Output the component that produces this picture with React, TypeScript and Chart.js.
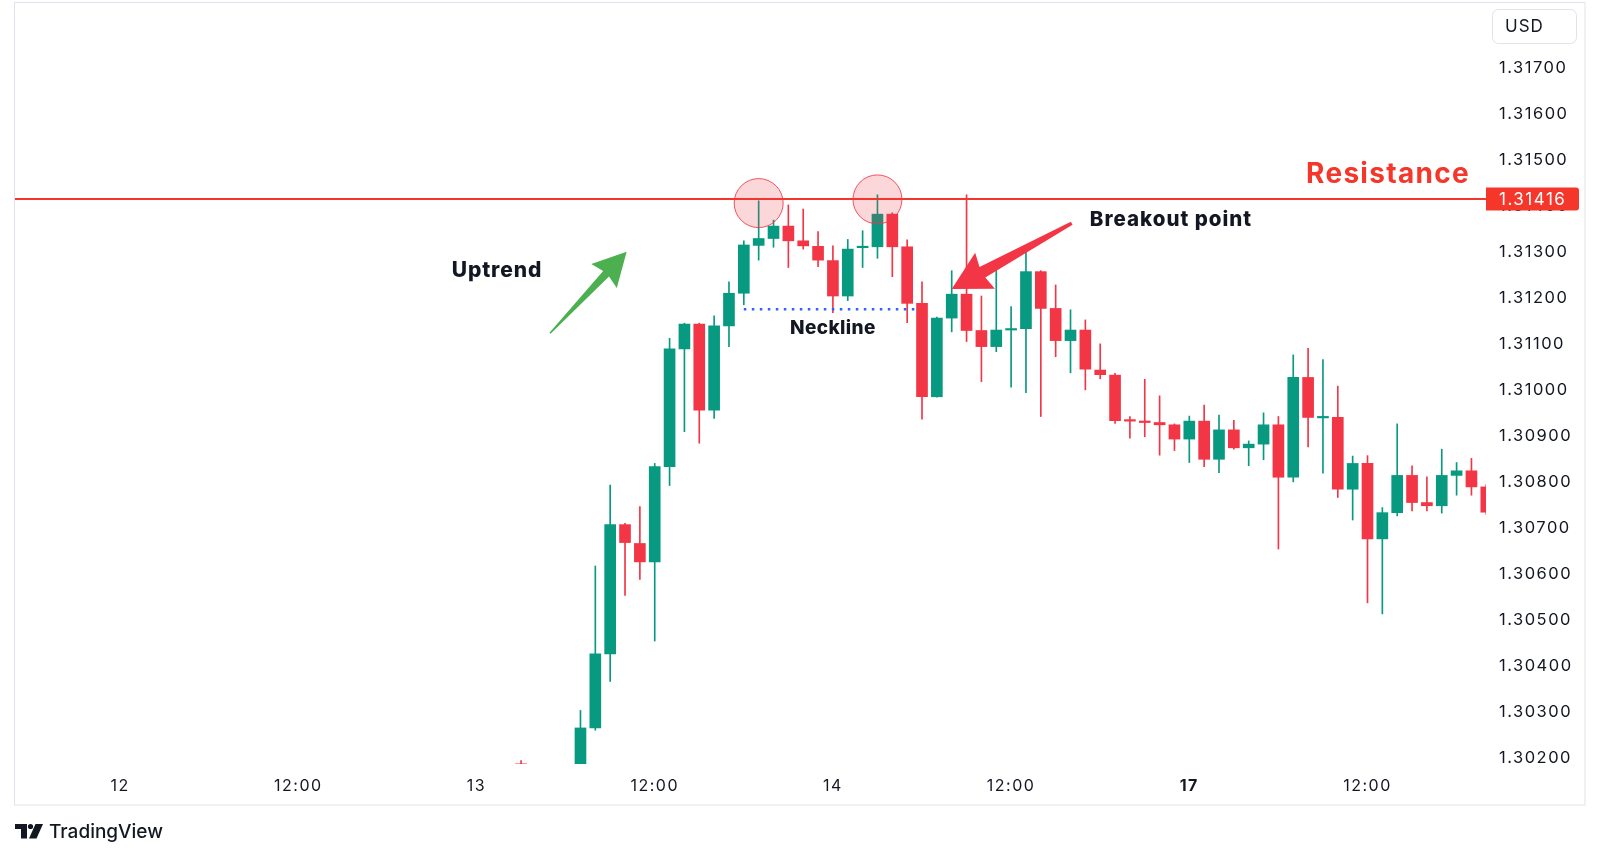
import React, { useEffect, useRef } from "react";
import { Chart, registerables } from "chart.js";

Chart.register(...registerables);

// ---- data (hourly candles, x = hours since 13th 00:00, weekend skipped) ----
const hours = [3,4,5,6,7,8,9,10,11,12,13,14,15,16,17,18,19,20,21,22,23,24,25,26,27,28,29,30,31,32,33,34,35,36,37,38,39,40,41,42,43,44,45,46,47,48,49,50,51,52,53,54,55,56,57,58,59,60,61,62,63,64,65,66,67,68];
const opens = [1.30188,1.30165,1.30105,1.30135,1.30160,1.30266,1.30427,1.30708,1.30667,1.30627,1.30834,1.31090,1.31144,1.30957,1.31140,1.31211,1.31315,1.31330,1.31357,1.31325,1.31313,1.31282,1.31205,1.31310,1.31312,1.31383,1.31312,1.31189,1.30986,1.31157,1.31209,1.31130,1.31095,1.31131,1.31134,1.31258,1.31178,1.31108,1.31131,1.31044,1.31033,1.30936,1.30933,1.30930,1.30925,1.30894,1.30933,1.30850,1.30914,1.30875,1.30883,1.30925,1.30811,1.31028,1.30940,1.30941,1.30785,1.30841,1.30677,1.30734,1.30815,1.30756,1.30749,1.30815,1.30825,1.30790];
const highs = [1.30195,1.30178,1.30150,1.30182,1.30304,1.30618,1.30794,1.30711,1.30747,1.30841,1.31113,1.31146,1.31146,1.31162,1.31236,1.31325,1.31412,1.31370,1.31403,1.31394,1.31345,1.31314,1.31328,1.31347,1.31425,1.31386,1.31327,1.31236,1.31159,1.31260,1.31425,1.31205,1.31277,1.31182,1.31305,1.31260,1.31229,1.31175,1.31153,1.31101,1.31037,1.30943,1.31024,1.30988,1.30927,1.30944,1.30968,1.30946,1.30935,1.30890,1.30951,1.30943,1.31077,1.31091,1.31067,1.31009,1.30857,1.30858,1.30745,1.30927,1.30836,1.30812,1.30872,1.30843,1.30852,1.30795];
const lows = [1.30150,1.30085,1.30060,1.30110,1.30150,1.30261,1.30367,1.30554,1.30589,1.30455,1.30793,1.30910,1.30885,1.30939,1.31095,1.31186,1.31283,1.31311,1.31267,1.31307,1.31269,1.31169,1.31195,1.31267,1.31287,1.31247,1.31147,1.30937,1.30985,1.31127,1.31106,1.31019,1.31084,1.31007,1.30995,1.30943,1.31073,1.31038,1.31001,1.31025,1.30928,1.30896,1.30899,1.30859,1.30869,1.30843,1.30834,1.30821,1.30872,1.30836,1.30849,1.30655,1.30801,1.30877,1.30820,1.30767,1.30718,1.30538,1.30514,1.30727,1.30738,1.30738,1.30733,1.30772,1.30772,1.30730];
const closes = [1.30165,1.30105,1.30135,1.30160,1.30266,1.30427,1.30708,1.30669,1.30627,1.30834,1.31090,1.31144,1.30957,1.31140,1.31211,1.31316,1.31330,1.31357,1.31325,1.31314,1.31283,1.31205,1.31307,1.31312,1.31383,1.31312,1.31189,1.30986,1.31157,1.31209,1.31130,1.31095,1.31131,1.31134,1.31258,1.31178,1.31108,1.31131,1.31046,1.31034,1.30934,1.30933,1.30930,1.30925,1.30894,1.30933,1.30850,1.30914,1.30875,1.30883,1.30925,1.30811,1.31028,1.30941,1.30942,1.30785,1.30841,1.30677,1.30734,1.30815,1.30756,1.30749,1.30815,1.30825,1.30790,1.30735];

const xTickValues = [-24, -12, 0, 12, 24, 36, 48, 60];
const xTickLabels = ["12", "12:00", "13", "12:00", "14", "12:00", "17", "12:00"];
const yTickValues = [1.302, 1.303, 1.304, 1.305, 1.306, 1.307, 1.308, 1.309, 1.31, 1.311, 1.312, 1.313, 1.314, 1.315, 1.316, 1.317];

const resistanceLevel = 1.31416;
const necklineLevel = 1.31176;
const necklineSpan = [18, 29.5];
const topCircleHours = [19, 27];
const topCirclePrices = [1.31407, 1.31415];
const uptrendArrow = [[4.95, 1.31124], [10.11, 1.31301]]; // tail, tip
const breakoutArrow = [[40.08, 1.31363], [32.0, 1.31220]]; // tail, tip
const labelUptrend = [-1.67, 1.31259];
const labelNeckline = [24.0, 1.31135];
const labelBreakout = [41.3, 1.3137];
const labelResistance = [66.9, 1.31468];

const UP = "#089981";
const DOWN = "#F23645";
const FONT = "Inter, 'Noto Sans', sans-serif";

function drawArrow(ctx: CanvasRenderingContext2D, x0: number, y0: number, x1: number, y1: number,
  tailW: number, baseW: number, headLen: number, headHalf: number, color: string) {
  const dx = x1 - x0, dy = y1 - y0;
  const len = Math.hypot(dx, dy);
  const ux = dx / len, uy = dy / len;
  const px = -uy, py = ux;
  const bx = x1 - ux * headLen, by = y1 - uy * headLen;
  ctx.save();
  ctx.fillStyle = color;
  ctx.beginPath();
  ctx.moveTo(x0 + px * tailW / 2, y0 + py * tailW / 2);
  ctx.lineTo(bx + px * baseW / 2, by + py * baseW / 2);
  ctx.lineTo(bx + px * headHalf - ux * 3, by + py * headHalf - uy * 3);
  ctx.lineTo(x1, y1);
  ctx.lineTo(bx - px * headHalf - ux * 3, by - py * headHalf - uy * 3);
  ctx.lineTo(bx - px * baseW / 2, by - py * baseW / 2);
  ctx.lineTo(x0 - px * tailW / 2, y0 - py * tailW / 2);
  ctx.closePath();
  ctx.fill();
  ctx.restore();
}

const overlayPlugin = {
  id: "overlay",
  beforeDraw(chart: any) {
    const ctx = chart.ctx as CanvasRenderingContext2D;
    ctx.save();
    ctx.fillStyle = "#ffffff";
    ctx.fillRect(0, 0, chart.width, chart.height);
    ctx.strokeStyle = "#e0e3eb";
    ctx.lineWidth = 1;
    ctx.strokeRect(14.5, 2.5, 1585 - 14.5, 805 - 2.5);
    ctx.restore();
    (ctx as any).letterSpacing = "1.5px";
  },
  beforeDatasetsDraw(chart: any) {
    (chart.ctx as any).letterSpacing = "0px";
  },
  afterDatasetsDraw(chart: any) {
    const ctx = chart.ctx as CanvasRenderingContext2D;
    const xs = chart.scales.x, ys = chart.scales.y;
    const area = chart.chartArea;
    const X = (v: number) => xs.getPixelForValue(v);
    const Y = (v: number) => ys.getPixelForValue(v);
    ctx.save();
    ctx.beginPath();
    ctx.rect(area.left, area.top, area.right - area.left, area.bottom - area.top);
    ctx.clip();

    // resistance line
    ctx.strokeStyle = "#F4372A";
    ctx.lineWidth = 2;
    ctx.beginPath();
    ctx.moveTo(area.left, Y(resistanceLevel));
    ctx.lineTo(area.right, Y(resistanceLevel));
    ctx.stroke();

    // circles at the tops
    topCircleHours.forEach((h, i) => {
      ctx.beginPath();
      ctx.arc(X(h), Y(topCirclePrices[i]), 24.5, 0, Math.PI * 2);
      ctx.fillStyle = "rgba(242, 54, 69, 0.2)";
      ctx.fill();
      ctx.strokeStyle = "rgba(242, 54, 69, 0.85)";
      ctx.lineWidth = 1;
      ctx.stroke();
    });

    // neckline
    ctx.strokeStyle = "#2962FF";
    ctx.lineWidth = 2.5;
    ctx.setLineDash([2.5, 5.5]);
    ctx.beginPath();
    ctx.moveTo(X(necklineSpan[0]), Y(necklineLevel));
    ctx.lineTo(X(necklineSpan[1]), Y(necklineLevel));
    ctx.stroke();
    ctx.setLineDash([]);

    // arrows
    drawArrow(ctx, X(uptrendArrow[0][0]), Y(uptrendArrow[0][1]), X(uptrendArrow[1][0]), Y(uptrendArrow[1][1]),
      1.5, 8, 30, 17.5, "#4CAF50");
    drawArrow(ctx, X(breakoutArrow[0][0]), Y(breakoutArrow[0][1]), X(breakoutArrow[1][0]), Y(breakoutArrow[1][1]),
      3.5, 12, 35, 20.5, "#F23645");

    // labels
    const c = ctx as any;
    ctx.fillStyle = "#131722";
    ctx.textBaseline = "middle";
    ctx.font = `800 21px ${FONT}`;
    c.letterSpacing = "0.9px";
    ctx.textAlign = "left";
    ctx.fillText("Uptrend", X(labelUptrend[0]), Y(labelUptrend[1]));
    ctx.font = `800 19px ${FONT}`;
    c.letterSpacing = "0.4px";
    ctx.textAlign = "center";
    ctx.fillText("Neckline", X(labelNeckline[0]), Y(labelNeckline[1]));
    ctx.font = `800 20.5px ${FONT}`;
    c.letterSpacing = "1px";
    ctx.textAlign = "left";
    ctx.fillText("Breakout point", X(labelBreakout[0]), Y(labelBreakout[1]));
    ctx.font = `bold 28px ${FONT}`;
    c.letterSpacing = "1.3px";
    ctx.textAlign = "right";
    ctx.fillStyle = "#F4372A";
    ctx.fillText("Resistance", X(labelResistance[0]), Y(labelResistance[1]));
    c.letterSpacing = "0px";
    ctx.restore();
  },
  afterDraw(chart: any) {
    const ctx = chart.ctx as CanvasRenderingContext2D;
    const c = ctx as any;
    const ys = chart.scales.y;
    const area = chart.chartArea;
    const yR = ys.getPixelForValue(resistanceLevel);
    ctx.save();
    // price label
    ctx.fillStyle = "#F4372A";
    ctx.beginPath();
    c.roundRect(area.right, yR - 11.5, 93, 23, [0, 3, 3, 0]);
    ctx.fill();
    ctx.fillStyle = "#ffffff";
    ctx.font = `17px ${FONT}`;
    c.letterSpacing = "1.5px";
    ctx.textAlign = "left";
    ctx.textBaseline = "middle";
    ctx.fillText(resistanceLevel.toFixed(5), area.right + 13, yR + 1);

    // USD box
    ctx.strokeStyle = "#e0e3eb";
    ctx.lineWidth = 1;
    ctx.fillStyle = "#ffffff";
    ctx.beginPath();
    c.roundRect(1492.5, 9.5, 84, 34, 6);
    ctx.fill();
    ctx.stroke();
    ctx.fillStyle = "#131722";
    ctx.font = `17px ${FONT}`;
    c.letterSpacing = "1px";
    ctx.fillText("USD", 1505, 27);

    // TradingView logo
    c.letterSpacing = "0px";
    ctx.fillStyle = "#131722";
    ctx.fillRect(15, 824, 12, 5);
    ctx.fillRect(21, 824, 6, 14.5);
    ctx.beginPath();
    ctx.arc(30.5, 826.5, 2.6, 0, Math.PI * 2);
    ctx.fill();
    ctx.beginPath();
    ctx.moveTo(35.5, 824);
    ctx.lineTo(43, 824);
    ctx.lineTo(36.5, 838.5);
    ctx.lineTo(29, 838.5);
    ctx.closePath();
    ctx.fill();
    ctx.font = `500 19px ${FONT}`;
    ctx.textBaseline = "alphabetic";
    ctx.fillText("TradingView", 49, 838);
    ctx.restore();
  },
};

export default function App() {
  const ref = useRef<HTMLCanvasElement | null>(null);
  useEffect(() => {
    if (!ref.current) return;
    const colors = hours.map((_, i) => (closes[i] >= opens[i] ? UP : DOWN));
    const chart = new Chart(ref.current, {
      type: "bar",
      data: {
        datasets: [
          {
            label: "body",
            data: hours.map((h, i) => ({ x: h, y: [opens[i], closes[i]] })) as any,
            backgroundColor: colors,
            borderWidth: 0,
            barThickness: 11,
            minBarLength: 1.5,
            grouped: false,
            order: 0,
            clip: 0,
          } as any,
          {
            label: "wick",
            data: hours.map((h, i) => ({ x: h, y: [lows[i], highs[i]] })) as any,
            backgroundColor: colors,
            borderWidth: 0,
            barThickness: 1,
            grouped: false,
            order: 1,
            clip: 0,
          } as any,
        ],
      },
      options: {
        animation: false,
        responsive: false,
        events: [],
        layout: { padding: { left: 15, top: 3, right: 15, bottom: 52 } },
        plugins: { legend: { display: false }, tooltip: { enabled: false } },
        scales: {
          x: {
            type: "linear",
            min: -31.08,
            max: 67.98,
            offset: false,
            grid: { display: false, drawTicks: false },
            border: { display: false },
            afterBuildTicks: (s: any) => {
              s.ticks = xTickValues.map((v) => ({ value: v }));
            },
            afterFit: (s: any) => {
              s.height = 41;
              s.paddingLeft = 0;
              s.paddingRight = 0;
            },
            ticks: {
              autoSkip: false,
              maxRotation: 0,
              padding: 13,
              color: "#131722",
              font: (c: any) => ({
                family: FONT,
                size: 16,
                weight: c.tick && c.tick.label === "17" ? "bold" : "normal",
              }),
              callback: (v: any) => {
                const k = xTickValues.indexOf(Number(v));
                return k >= 0 ? xTickLabels[k] : "";
              },
            },
          },
          y: {
            type: "linear",
            position: "right",
            min: 1.301876,
            max: 1.31842,
            beginAtZero: false,
            grid: { display: false, drawTicks: false },
            border: { display: false },
            afterBuildTicks: (s: any) => {
              s.ticks = yTickValues.map((v) => ({ value: v }));
            },
            afterFit: (s: any) => {
              s.width = 99;
              s.paddingTop = 0;
              s.paddingBottom = 0;
            },
            ticks: {
              padding: 13,
              color: "#131722",
              font: { family: FONT, size: 16.5 },
              callback: (v: any) => Number(v).toFixed(5),
            },
          },
        },
      } as any,
      plugins: [overlayPlugin],
    });
    return () => chart.destroy();
  }, []);
  return (
    <div style={{ position: "fixed", left: 0, top: 0, width: 1600, height: 857, background: "#fff" }}>
      <canvas ref={ref} width={1600} height={857} style={{ display: "block" }} />
    </div>
  );
}
